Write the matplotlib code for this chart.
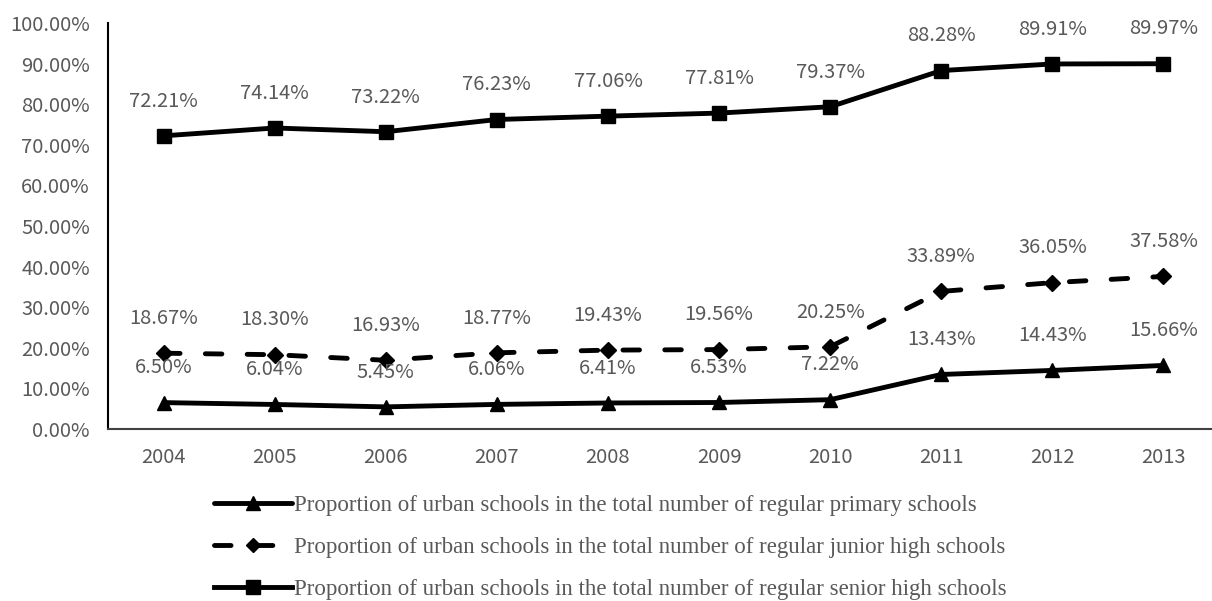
import matplotlib
matplotlib.use("Agg")
import matplotlib.pyplot as plt

years = ["2004", "2005", "2006", "2007", "2008", "2009", "2010", "2011", "2012", "2013"]
primary = [6.50, 6.04, 5.45, 6.06, 6.41, 6.53, 7.22, 13.43, 14.43, 15.66]
junior = [18.67, 18.30, 16.93, 18.77, 19.43, 19.56, 20.25, 33.89, 36.05, 37.58]
senior = [72.21, 74.14, 73.22, 76.23, 77.06, 77.81, 79.37, 88.28, 89.91, 89.97]
series_names = [
    "Proportion of urban schools in the total number of regular primary schools",
    "Proportion of urban schools in the total number of regular junior high schools",
    "Proportion of urban schools in the total number of regular senior high schools",
]
yticks = [0, 10, 20, 30, 40, 50, 60, 70, 80, 90, 100]

W, H = 1212, 601
fig = plt.figure(figsize=(W / 100, H / 100), dpi=100)
left, right, top, bottom = 108, 1219, 23, 429
ax = fig.add_axes([left / W, 1 - bottom / H, (right - left) / W, (bottom - top) / H])

gray = "#595959"
tick_font = ["Noto Sans CJK SC", "DejaVu Sans"]
x = list(range(len(years)))

lw = 3.5
l1, = ax.plot(x, primary, color="black", lw=lw, marker="^", ms=10, solid_capstyle="round",
              solid_joinstyle="round", clip_on=False)
l2, = ax.plot(x, junior, color="black", lw=lw, marker="D", ms=8, linestyle=(0, (3.4, 5.2)),
              dash_capstyle="round", clip_on=False)
l3, = ax.plot(x, senior, color="black", lw=lw, marker="s", ms=10.5, solid_joinstyle="round",
              clip_on=False)

for vals in (primary, junior, senior):
    for xi, v in zip(x, vals):
        ax.annotate(f"{v:.2f}%", (xi, v), xytext=(0, 25), textcoords="offset points",
                    ha="center", va="center", fontsize=14.5, color=gray, family=tick_font,
                    fontweight="light")

ax.set_xlim(-0.5, len(years) - 0.5)
ax.set_ylim(0, 100)
ax.set_yticks(yticks)
ax.set_yticklabels([f"{t:.2f}%" for t in yticks])
ax.set_xticks(x)
ax.set_xticklabels(years)
for lab in ax.get_xticklabels() + ax.get_yticklabels():
    lab.set_family(tick_font)
    lab.set_fontsize(14.5)
    lab.set_color(gray)
    lab.set_fontweight("light")
ax.tick_params(axis="both", length=0)
ax.tick_params(axis="x", pad=13)
ax.tick_params(axis="y", pad=13)

for s in ("top", "right"):
    ax.spines[s].set_visible(False)
ax.spines["left"].set_color("black")
ax.spines["left"].set_linewidth(1.5)
ax.spines["bottom"].set_color("#404040")
ax.spines["bottom"].set_linewidth(1.5)

leg = fig.legend([l1, l2, l3], series_names, loc="upper left",
                 bbox_to_anchor=(214 / W, 1 - 495 / H), frameon=False,
                 prop={"family": "Liberation Serif", "size": 16.5},
                 handlelength=3.4, handletextpad=0.1, labelspacing=0.92, borderpad=0,
                 borderaxespad=0, markerscale=0.95)
for t in leg.get_texts():
    t.set_color(gray)

fig.savefig("out.png", dpi=100)
